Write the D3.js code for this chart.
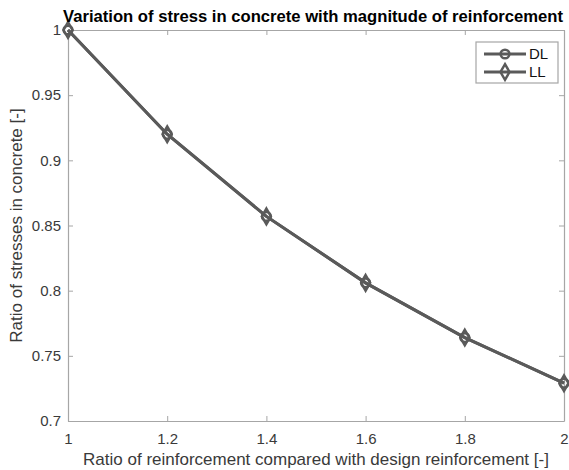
<!DOCTYPE html>
<html>
<head>
<meta charset="utf-8">
<script src="https://cdn.jsdelivr.net/npm/d3@7"></script>
<style>
  body { margin: 0; background: #fff; }
  svg { font-family: "Liberation Sans", Arial, sans-serif; }
</style>
</head>
<body>
<div id="chart"></div>
<script>
const reinfRatio = [1, 1.2, 1.4, 1.6, 1.8, 2];
const stressDL = [1.0, 0.920, 0.857, 0.806, 0.764, 0.729];
const stressLL = [1.0, 0.920, 0.857, 0.806, 0.764, 0.729];
const xTicks = [1, 1.2, 1.4, 1.6, 1.8, 2];
const yTicks = [0.7, 0.75, 0.8, 0.85, 0.9, 0.95, 1];

const width = 569, height = 470;
const margin = { top: 30, right: 5, bottom: 49, left: 68 };
const w = width - margin.left - margin.right;
const h = height - margin.top - margin.bottom;
const lineColor = "#5a5a5a";
const axisColor = "#a6a6a6";
const textColor = "#3a3a3a";

const svg = d3.select("#chart")
    .append("svg")
    .attr("width", width)
    .attr("height", height);

const g = svg.append("g")
    .attr("transform", `translate(${margin.left},${margin.top})`);

const xScale = d3.scaleLinear().domain([1, 2]).range([0, w]);
const yScale = d3.scaleLinear().domain([0.7, 1]).range([h, 0]);

// axes, ticks pointing inward like MATLAB
function styleAxis(sel) {
    sel.select(".domain").attr("stroke", axisColor).attr("stroke-width", 1.2);
    sel.selectAll(".tick line").attr("stroke", axisColor);
    sel.selectAll(".tick text").attr("fill", textColor).style("font-size", "15px");
}

g.append("g")
    .attr("transform", `translate(0,${h})`)
    .call(d3.axisBottom(xScale).tickValues(xTicks).tickFormat(d3.format("")).tickSizeInner(-5).tickSizeOuter(0).tickPadding(12))
    .call(styleAxis);

g.append("g")
    .call(d3.axisTop(xScale).tickValues(xTicks).tickFormat("").tickSizeInner(-5).tickSizeOuter(0))
    .call(styleAxis);

g.append("g")
    .call(d3.axisLeft(yScale).tickValues(yTicks).tickFormat(d3.format("")).tickSizeInner(-5).tickSizeOuter(0).tickPadding(7))
    .call(styleAxis);

g.append("g")
    .attr("transform", `translate(${w},0)`)
    .call(d3.axisRight(yScale).tickValues(yTicks).tickFormat("").tickSizeInner(-5).tickSizeOuter(0))
    .call(styleAxis);

const line = d3.line()
    .x((d, i) => xScale(reinfRatio[i]))
    .y(d => yScale(d));

const circleSym = d3.symbol().type(d3.symbolCircle).size(60);
const diamondSym = d3.symbol().type(d3.symbolDiamond).size(70);

const series = [
    { name: "DL", values: stressDL, sym: circleSym },
    { name: "LL", values: stressLL, sym: diamondSym }
];

series.forEach(s => {
    g.append("path")
        .datum(s.values)
        .attr("fill", "none")
        .attr("stroke", lineColor)
        .attr("stroke-width", 3)
        .attr("d", line);
});

series.forEach(s => {
    g.selectAll(null)
        .data(s.values)
        .enter()
        .append("path")
        .attr("d", s.sym)
        .attr("transform", (d, i) => `translate(${xScale(reinfRatio[i])},${yScale(d)})`)
        .attr("fill", "none")
        .attr("stroke", lineColor)
        .attr("stroke-width", 2.5);
});

// legend
const legend = svg.append("g").attr("transform", "translate(476,42)");
legend.append("rect")
    .attr("width", 82)
    .attr("height", 41)
    .attr("fill", "#fff")
    .attr("stroke", axisColor)
    .attr("stroke-width", 1.2);

series.forEach((s, i) => {
    const ly = 12 + i * 18;
    legend.append("line")
        .attr("x1", 8).attr("x2", 50)
        .attr("y1", ly).attr("y2", ly)
        .attr("stroke", lineColor)
        .attr("stroke-width", 3);
    legend.append("path")
        .attr("d", s.sym)
        .attr("transform", `translate(29,${ly})`)
        .attr("fill", "none")
        .attr("stroke", lineColor)
        .attr("stroke-width", 2.5);
    legend.append("text")
        .attr("x", 53)
        .attr("y", ly + 5)
        .attr("fill", "#111")
        .style("font-size", "15px")
        .text(s.name);
});

// title and labels
svg.append("text")
    .attr("x", margin.left + w / 2 - 3)
    .attr("y", 22)
    .attr("text-anchor", "middle")
    .style("font-size", "16.5px")
    .style("font-weight", "bold")
    .attr("fill", "#000")
    .attr("textLength", 500)
    .attr("lengthAdjust", "spacingAndGlyphs")
    .text("Variation of stress in concrete with magnitude of reinforcement");

svg.append("text")
    .attr("x", margin.left + w / 2)
    .attr("y", 465)
    .attr("text-anchor", "middle")
    .style("font-size", "17px")
    .attr("fill", textColor)
    .text("Ratio of reinforcement compared with design reinforcement [-]");

svg.append("text")
    .attr("transform", `translate(22,${margin.top + h / 2}) rotate(-90)`)
    .attr("text-anchor", "middle")
    .style("font-size", "17px")
    .attr("fill", textColor)
    .text("Ratio of stresses in concrete [-]");
</script>
</body>
</html>
